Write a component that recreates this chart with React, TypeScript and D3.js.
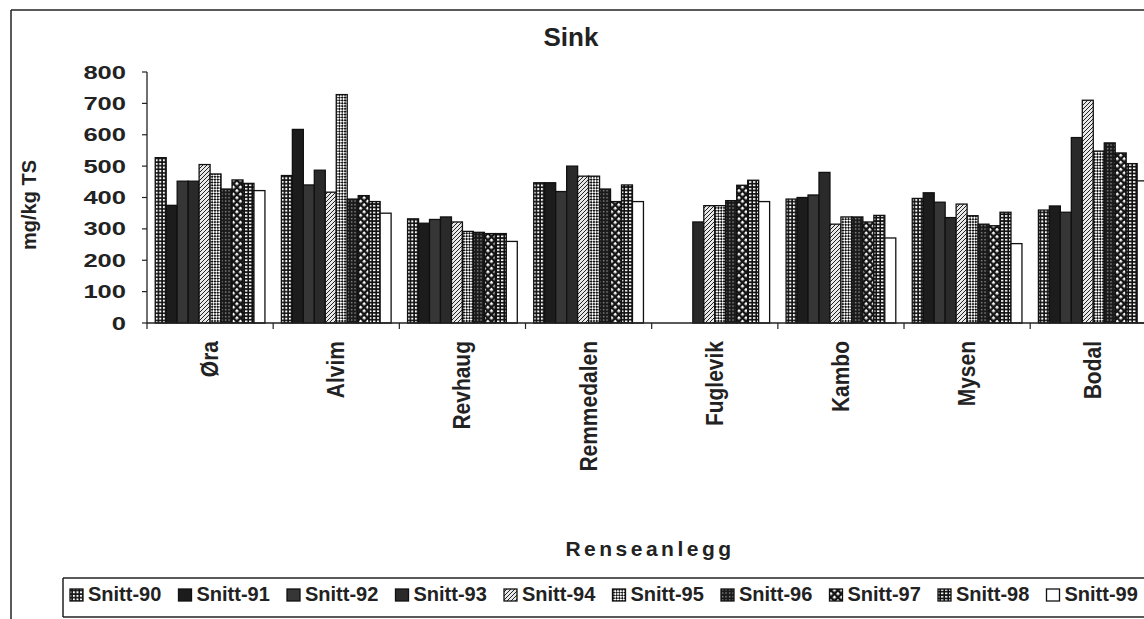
import React from "react";
import * as d3 from "d3";

const categories = ["Øra", "Alvim", "Revhaug", "Remmedalen", "Fuglevik", "Kambo", "Mysen", "Bodal"];
const seriesNames = ["Snitt-90", "Snitt-91", "Snitt-92", "Snitt-93", "Snitt-94", "Snitt-95", "Snitt-96", "Snitt-97", "Snitt-98", "Snitt-99"];
const s90 = [527, 470, 332, 447, 0, 395, 397, 360];
const s91 = [375, 617, 318, 447, 0, 400, 415, 373];
const s92 = [452, 440, 330, 419, 0, 408, 385, 353];
const s93 = [452, 487, 338, 500, 322, 480, 336, 591];
const s94 = [505, 417, 322, 468, 374, 315, 379, 710];
const s95 = [475, 728, 292, 468, 374, 338, 342, 548];
const s96 = [427, 395, 289, 427, 390, 338, 315, 574];
const s97 = [456, 406, 285, 387, 439, 322, 310, 542];
const s98 = [445, 387, 285, 440, 455, 343, 353, 508];
const s99 = [422, 350, 260, 387, 387, 271, 253, 453];
const seriesValues = [s90, s91, s92, s93, s94, s95, s96, s97, s98, s99];
const yTicks = [0, 100, 200, 300, 400, 500, 600, 700, 800];

const FONT = "'Liberation Sans', Arial, sans-serif";
const fills = ["url(#p90)", "#1c1c1c", "#363636", "#2a2a2a", "url(#p94)", "url(#p95)", "url(#p96)", "url(#p97)", "url(#p98)", "#ffffff"];

export default function App() {
  const x0 = d3.scaleBand<string>().domain(categories).range([147, 147 + 8 * 126.17]).paddingInner(0).paddingOuter(0);
  const x1 = d3.scaleBand<string>().domain(seriesNames).range([0, x0.bandwidth()]).paddingInner(0).paddingOuter(0.75);
  const y = d3.scaleLinear().domain([0, 800]).range([323, 72]);

  return (
    <svg width={1144} height={619} style={{ position: "absolute", left: 0, top: 0, background: "#fff" }} fontFamily={FONT}>
      <defs>
        <pattern id="p90" width="3.6" height="3.6" patternUnits="userSpaceOnUse">
          <rect width="3.6" height="3.6" fill="#111" />
          <rect x="0.9" y="0.9" width="2" height="2" fill="#fff" />
        </pattern>
        <pattern id="p94" width="4" height="4" patternUnits="userSpaceOnUse">
          <rect width="4" height="4" fill="#e8e8e8" />
          <path d="M0,4 L4,0 M-1,1 L1,-1 M3,5 L5,3" stroke="#222" strokeWidth="1" />
        </pattern>
        <pattern id="p95" width="4" height="4" patternUnits="userSpaceOnUse" patternTransform="rotate(45)">
          <rect width="4" height="4" fill="#fff" />
          <rect width="2" height="2" fill="#111" />
          <rect x="2" y="2" width="2" height="2" fill="#111" />
        </pattern>
        <pattern id="p96" width="3.5" height="3.5" patternUnits="userSpaceOnUse">
          <rect width="3.5" height="3.5" fill="#1a1a1a" />
          <rect x="1" y="1" width="1.2" height="1.2" fill="#bbb" />
        </pattern>
        <pattern id="p97" width="5" height="5" patternUnits="userSpaceOnUse" patternTransform="rotate(45)">
          <rect width="5" height="5" fill="#151515" />
          <rect x="1" y="1" width="2.6" height="2.6" fill="#fff" />
        </pattern>
        <pattern id="p98" width="4" height="3.4" patternUnits="userSpaceOnUse">
          <rect width="4" height="3.4" fill="#111" />
          <rect x="1" y="1" width="2.4" height="1.6" fill="#fff" />
        </pattern>
      </defs>

      {/* outer frame */}
      <line x1={11} y1={10} x2={1144} y2={10} stroke="#222" strokeWidth={1.5} />
      <line x1={11} y1={10} x2={11} y2={619} stroke="#222" strokeWidth={1.5} />

      {/* title */}
      <text x={571} y={46} textAnchor="middle" fontSize={26} fontWeight="bold" fill="#222">Sink</text>

      {/* y axis title */}
      <text transform="translate(36,205) rotate(-90)" textAnchor="middle" fontSize={20} fontWeight="bold" fill="#222">mg/kg TS</text>

      {/* bars */}
      {categories.map((c, ci) => (
        <g key={c}>
          {seriesNames.map((s, si) => {
            const v = seriesValues[si][ci];
            const bx = (x0(c) ?? 0) + (x1(s) ?? 0);
            return (
              <rect key={s} x={bx} y={y(v)} width={x1.bandwidth()} height={y(0) - y(v)}
                fill={fills[si]} stroke="#111" strokeWidth={1.3} />
            );
          })}
        </g>
      ))}

      {/* y axis */}
      <line x1={147} y1={y(800)} x2={147} y2={y(0)} stroke="#222" strokeWidth={1.3} />
      {yTicks.map((t) => (
        <g key={t}>
          <line x1={142} y1={y(t)} x2={147} y2={y(t)} stroke="#222" strokeWidth={1.2} />
          <text x={126} y={y(t) + 6.5} textAnchor="end" fontSize={18} fontWeight="bold" fill="#222"
            textLength={String(t).length * 14.2} lengthAdjust="spacingAndGlyphs">{t}</text>
        </g>
      ))}

      {/* x axis */}
      <line x1={147} y1={y(0)} x2={1144} y2={y(0)} stroke="#222" strokeWidth={1.5} />
      {categories.map((c) => (
        <line key={"t" + c} x1={x0(c)} y1={y(0)} x2={x0(c)} y2={y(0) + 6} stroke="#222" strokeWidth={1.2} />
      ))}
      {categories.map((c) => {
        const cx = (x0(c) ?? 0) + x0.bandwidth() / 2;
        return (
          <text key={"l" + c} transform={`translate(${cx + 8},${341}) scale(1.15,1) rotate(-90)`} textAnchor="end"
            fontSize={21} fontWeight="bold" fill="#222">{c}</text>
        );
      })}

      {/* x axis title */}
      <text x={650} y={556} textAnchor="middle" fontSize={21} fontWeight="bold" letterSpacing={3.5} fill="#222">Renseanlegg</text>

      {/* legend */}
      <line x1={63} y1={578} x2={1144} y2={578} stroke="#222" strokeWidth={1.5} />
      <line x1={63} y1={578} x2={63} y2={617} stroke="#222" strokeWidth={1.5} />
      <line x1={63} y1={617} x2={1144} y2={617} stroke="#222" strokeWidth={1.5} />
      {seriesNames.map((s, i) => {
        const lx = 70 + i * 108.5;
        return (
          <g key={"lg" + s}>
            <rect x={lx} y={589} width={13} height={12} fill={fills[i]} stroke="#111" strokeWidth={1.3} />
            <text x={lx + 18} y={601} fontSize={20} fontWeight="bold" fill="#222">{s}</text>
          </g>
        );
      })}
    </svg>
  );
}
